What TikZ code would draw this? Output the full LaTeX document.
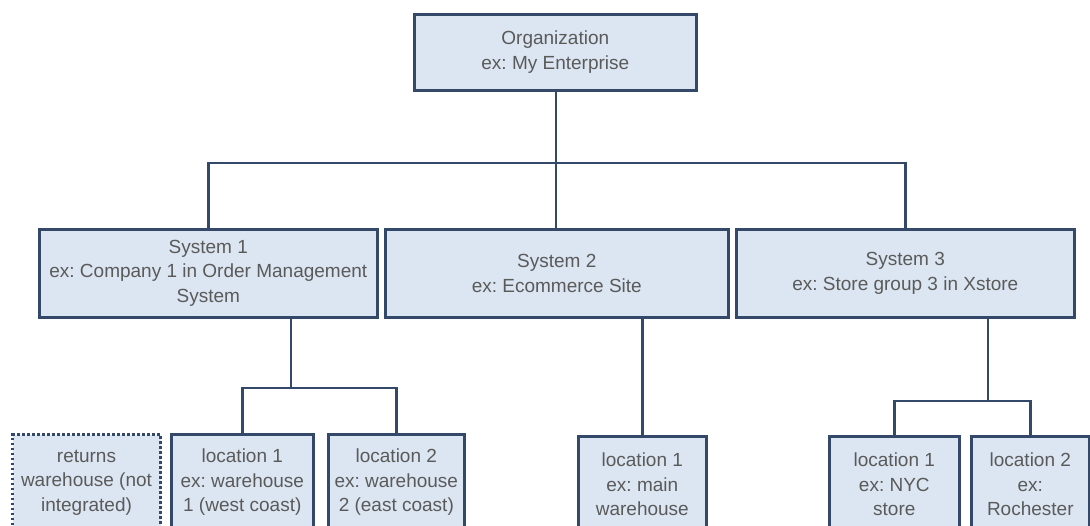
\documentclass[tikz,border=0pt]{standalone}
\usepackage{fontspec}
\setmainfont{Liberation Sans}
\frenchspacing
\definecolor{boxfill}{HTML}{DCE6F2}
\definecolor{boxline}{HTML}{34496A}
\definecolor{labelgray}{HTML}{5A5A5A}
\begin{document}
\begin{tikzpicture}[x=1pt,y=-1pt,
  unit/.style={rectangle, draw=boxline, fill=boxfill, line width=2.6pt,
    inner sep=0pt, anchor=north west, align=center, text=labelgray,
    font=\fontsize{19}{24.5}\selectfont},
  unitdotted/.style={unit, dash pattern=on 2.4pt off 2.6pt, line width=3pt},
  link/.style={draw=boxline, line width=2.6pt, line join=miter}]
\useasboundingbox (0,0) rectangle (1090,525);
\clip (0,0) rectangle (1090,525);

% top level
\node[unit, minimum width=282pt, minimum height=76pt] (org) at (413,13)
  {Organization\\ex: My Enterprise};

% systems
\node[unit, minimum width=338pt, minimum height=88pt] (sys1) at (38,228)
  {System 1\\ex: Company 1 in Order Management\\System};
\node[unit, minimum width=343pt, minimum height=88pt] (sys2) at (384,228)
  {System 2\\ex: Ecommerce Site};
\node[unit, minimum width=338pt, minimum height=88pt] (sys3) at (735,228)
  {System 3\\ex: Store group 3 in Xstore};

% locations
\node[unitdotted, minimum width=148pt, minimum height=96pt] (ret) at (11,433)
  {returns\\warehouse (not\\integrated)};
\node[unit, minimum width=142pt, minimum height=96pt] (wco) at (170,433)
  {location 1\\ex: warehouse\\1 (west coast)};
\node[unit, minimum width=136pt, minimum height=96pt] (eco) at (327,433)
  {location 2\\ex: warehouse\\2 (east coast)};
\node[unit, minimum width=128pt, minimum height=96pt] (mainwh) at (577,435)
  {location 1\\ex: main\\warehouse};
\node[unit, minimum width=130pt, minimum height=96pt] (nyc) at (828,435)
  {location 1\\ex: NYC\\store};
\node[unit, minimum width=118pt, minimum height=96pt] (roch) at (970,435)
  {location 2\\ex:\\Rochester};

% junction points of the connectors
\coordinate (j1) at (556,163);
\coordinate (j2) at (291,388);
\coordinate (j3) at (988,401);

% organization to systems
\draw[link] (org.south -| j1) -- (sys2.north -| j1);
\draw[link] (sys1.north) |- (j1) -| (sys3.north);

% system 1 to its locations
\draw[link] (sys1.south -| j2) -- (j2);
\draw[link] (wco.north) |- (j2) -| (eco.north);

% system 2 to its location
\draw[link] (sys2.south -| mainwh.north) -- (mainwh.north);

% system 3 to its locations
\draw[link] (sys3.south -| j3) -- (j3);
\draw[link] (nyc.north) |- (j3) -| (roch.north);
\end{tikzpicture}
\end{document}
